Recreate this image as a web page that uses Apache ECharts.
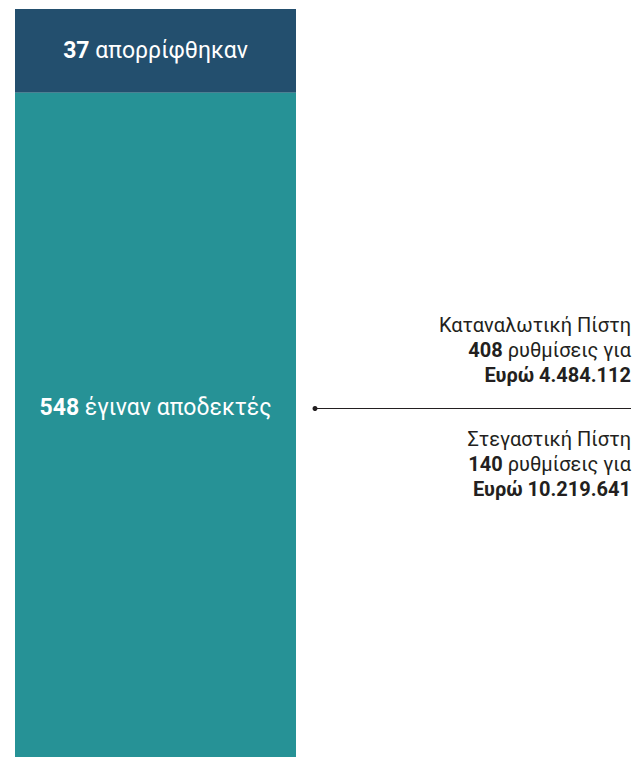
<!DOCTYPE html>
<html>
<head>
<meta charset="utf-8">
<script src="https://cdn.jsdelivr.net/npm/echarts@6/dist/echarts.min.js"></script>
<style>
  html, body { margin: 0; padding: 0; background: #fff; }
  #main { width: 636px; height: 757px; }
</style>
</head>
<body>
<div id="main"></div>
<script>
// δεδομένα
const barCategory = ['Αιτήσεις'];
const barNames = ['απορρίφθηκαν', 'έγιναν αποδεκτές'];
const barValues = [37, 548];
const barColors = ['#234f6e', '#269296'];

const creditTypes = ['Καταναλωτική Πίστη', 'Στεγαστική Πίστη'];
const creditCounts = [408, 140];
const creditAmounts = [4484112, 10219641];

const fmtEuro = v => String(v).replace(/\B(?=(\d{3})+(?!\d))/g, '.');

const FONT = 'Roboto';
const TXT = '#231f20';

let myChart = echarts.init(document.getElementById('main'), null, { renderer: 'svg' });

const barLabel = (name) => ({
  show: true,
  color: '#fff',
  fontFamily: FONT,
  fontSize: 23,
  align: 'center',
  verticalAlign: 'middle',
  formatter: (p) => `{b|${p.value}} ${name}`,
  rich: { b: { fontWeight: 'bold', fontSize: 23, color: '#fff', fontFamily: FONT } }
});

// κείμενα δεξιά
const lineY = 408.5;
const rightX = 631;
const textRows = [];
creditTypes.forEach((t, i) => {
  const y0 = i === 0 ? 325 : 439;
  const rows = [
    t,
    `{b|${creditCounts[i]}} ρυθμίσεις για`,
    `{b|Ευρώ ${fmtEuro(creditAmounts[i])}}`
  ];
  rows.forEach((r, j) => {
    textRows.push({
      type: 'text',
      x: rightX,
      y: y0 + j * 25,
      style: {
        text: r,
        align: 'right',
        verticalAlign: 'middle',
        fill: TXT,
        fontFamily: FONT,
        fontSize: 20,
        rich: { b: { fontWeight: 'bold', fontSize: 20, fill: TXT, fontFamily: FONT } }
      }
    });
  });
});

myChart.setOption({
  animation: false,
  grid: { left: 15, top: 9, width: 281, bottom: 0 },
  xAxis: { type: 'category', data: barCategory, show: false },
  yAxis: { type: 'value', inverse: true, min: 0, max: 330, show: false },
  series: [
    {
      name: barNames[0],
      type: 'bar',
      stack: 'total',
      barWidth: '100%',
      data: [barValues[0]],
      itemStyle: { color: barColors[0] },
      label: Object.assign(barLabel(barNames[0]), { position: 'inside' })
    },
    {
      name: barNames[1],
      type: 'bar',
      stack: 'total',
      barWidth: '100%',
      data: [barValues[1]],
      itemStyle: { color: barColors[1] },
      label: Object.assign(barLabel(barNames[1]), { position: ['50%', 315] })
    }
  ],
  graphic: [
    { type: 'line', shape: { x1: 315, y1: lineY, x2: rightX, y2: lineY }, style: { stroke: TXT, lineWidth: 1 } },
    { type: 'circle', shape: { cx: 315, cy: lineY, r: 2.5 }, style: { fill: TXT } }
  ].concat(textRows)
});
</script>
</body>
</html>
